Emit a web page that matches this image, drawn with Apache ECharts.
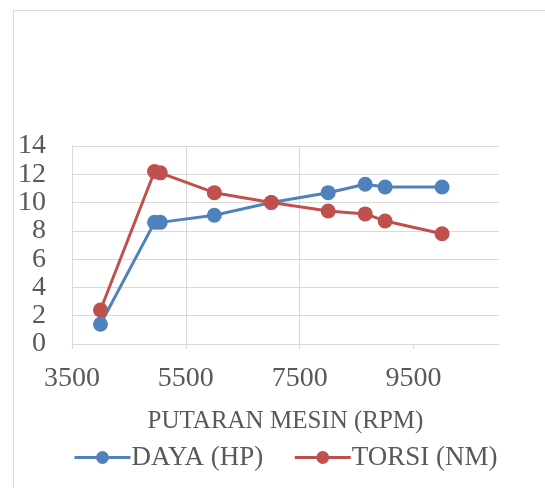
<!DOCTYPE html>
<html>
<head>
<meta charset="utf-8">
<script src="https://cdn.jsdelivr.net/npm/echarts@6/dist/echarts.min.js"></script>
<style>
  html, body { margin: 0; padding: 0; background: #ffffff; }
  #chart { width: 545px; height: 488px; }
</style>
</head>
<body>
<div id="chart"></div>
<script>
// Engine speed (rpm) for each measurement
const rpm = [4000, 4950, 5050, 6000, 7000, 8000, 8650, 9000, 10000];
// Power output (HP)
const daya = [1.4, 8.6, 8.6, 9.1, 10.0, 10.7, 11.3, 11.1, 11.1];
// Torque (Nm)
const torsi = [2.4, 12.2, 12.1, 10.7, 10.0, 9.4, 9.2, 8.7, 7.8];
// Tick labels on the rpm axis
const xTicks = [3500, 5500, 7500, 9500];

const seriesNames = ['DAYA (HP)', 'TORSI (NM)'];
const xTitle = 'PUTARAN MESIN (RPM)';

const textColor = '#595959';
const gridColor = '#d9d9d9';
const fontFamily = '"Liberation Serif", "Times New Roman", serif';

const pairs = (ys) => rpm.map((x, i) => [x, ys[i]]);

const chart = echarts.init(document.getElementById('chart'), null, { renderer: 'canvas' });

chart.setOption({
  animation: false,
  backgroundColor: '#ffffff',
  textStyle: { fontFamily: fontFamily, color: textColor },
  graphic: [{
    type: 'rect',
    silent: true,
    shape: { x: 13.5, y: 10.5, width: 700, height: 700 },
    style: { fill: null, stroke: gridColor, lineWidth: 1 }
  }],
  grid: { left: 72, right: 46, top: 146, bottom: 144, containLabel: false },
  xAxis: {
    type: 'value',
    min: 3500,
    max: 11000,
    interval: 2000,
    name: xTitle,
    nameLocation: 'middle',
    nameGap: 65,
    nameTextStyle: { fontSize: 25, color: textColor, fontFamily: fontFamily },
    axisLine: { show: true, lineStyle: { color: gridColor, width: 1 } },
    axisTick: { show: true, length: 5, customValues: xTicks, lineStyle: { color: gridColor } },
    axisLabel: {
      customValues: xTicks,
      formatter: (v) => String(v),
      fontSize: 28,
      color: textColor,
      fontFamily: fontFamily,
      margin: 21
    },
    splitLine: { show: true, showMinLine: false, showMaxLine: false, lineStyle: { color: gridColor, width: 1 } }
  },
  yAxis: {
    type: 'value',
    min: 0,
    max: 14,
    interval: 2,
    axisLine: { show: true, lineStyle: { color: gridColor, width: 1 } },
    axisTick: { show: false },
    axisLabel: { fontSize: 28, color: textColor, fontFamily: fontFamily, margin: 26 },
    splitLine: { show: true, showMinLine: false, lineStyle: { color: gridColor, width: 1 } }
  },
  legend: {
    data: seriesNames,
    left: 68,
    top: 439,
    itemWidth: 56,
    itemHeight: 16,
    itemGap: 30,
    lineStyle: { width: 3 },
    textStyle: { fontSize: 27, color: textColor, fontFamily: fontFamily, padding: [0, 0, 0, -4] }
  },
  series: [
    {
      name: seriesNames[0],
      type: 'line',
      data: pairs(daya),
      symbol: 'circle',
      symbolSize: 15,
      itemStyle: { color: '#4f81bd' },
      lineStyle: { color: '#4f81bd', width: 3 },
      z: 3
    },
    {
      name: seriesNames[1],
      type: 'line',
      data: pairs(torsi),
      symbol: 'circle',
      symbolSize: 15,
      itemStyle: { color: '#c0504d' },
      lineStyle: { color: '#c0504d', width: 3 },
      z: 4
    }
  ]
});
</script>
</body>
</html>
